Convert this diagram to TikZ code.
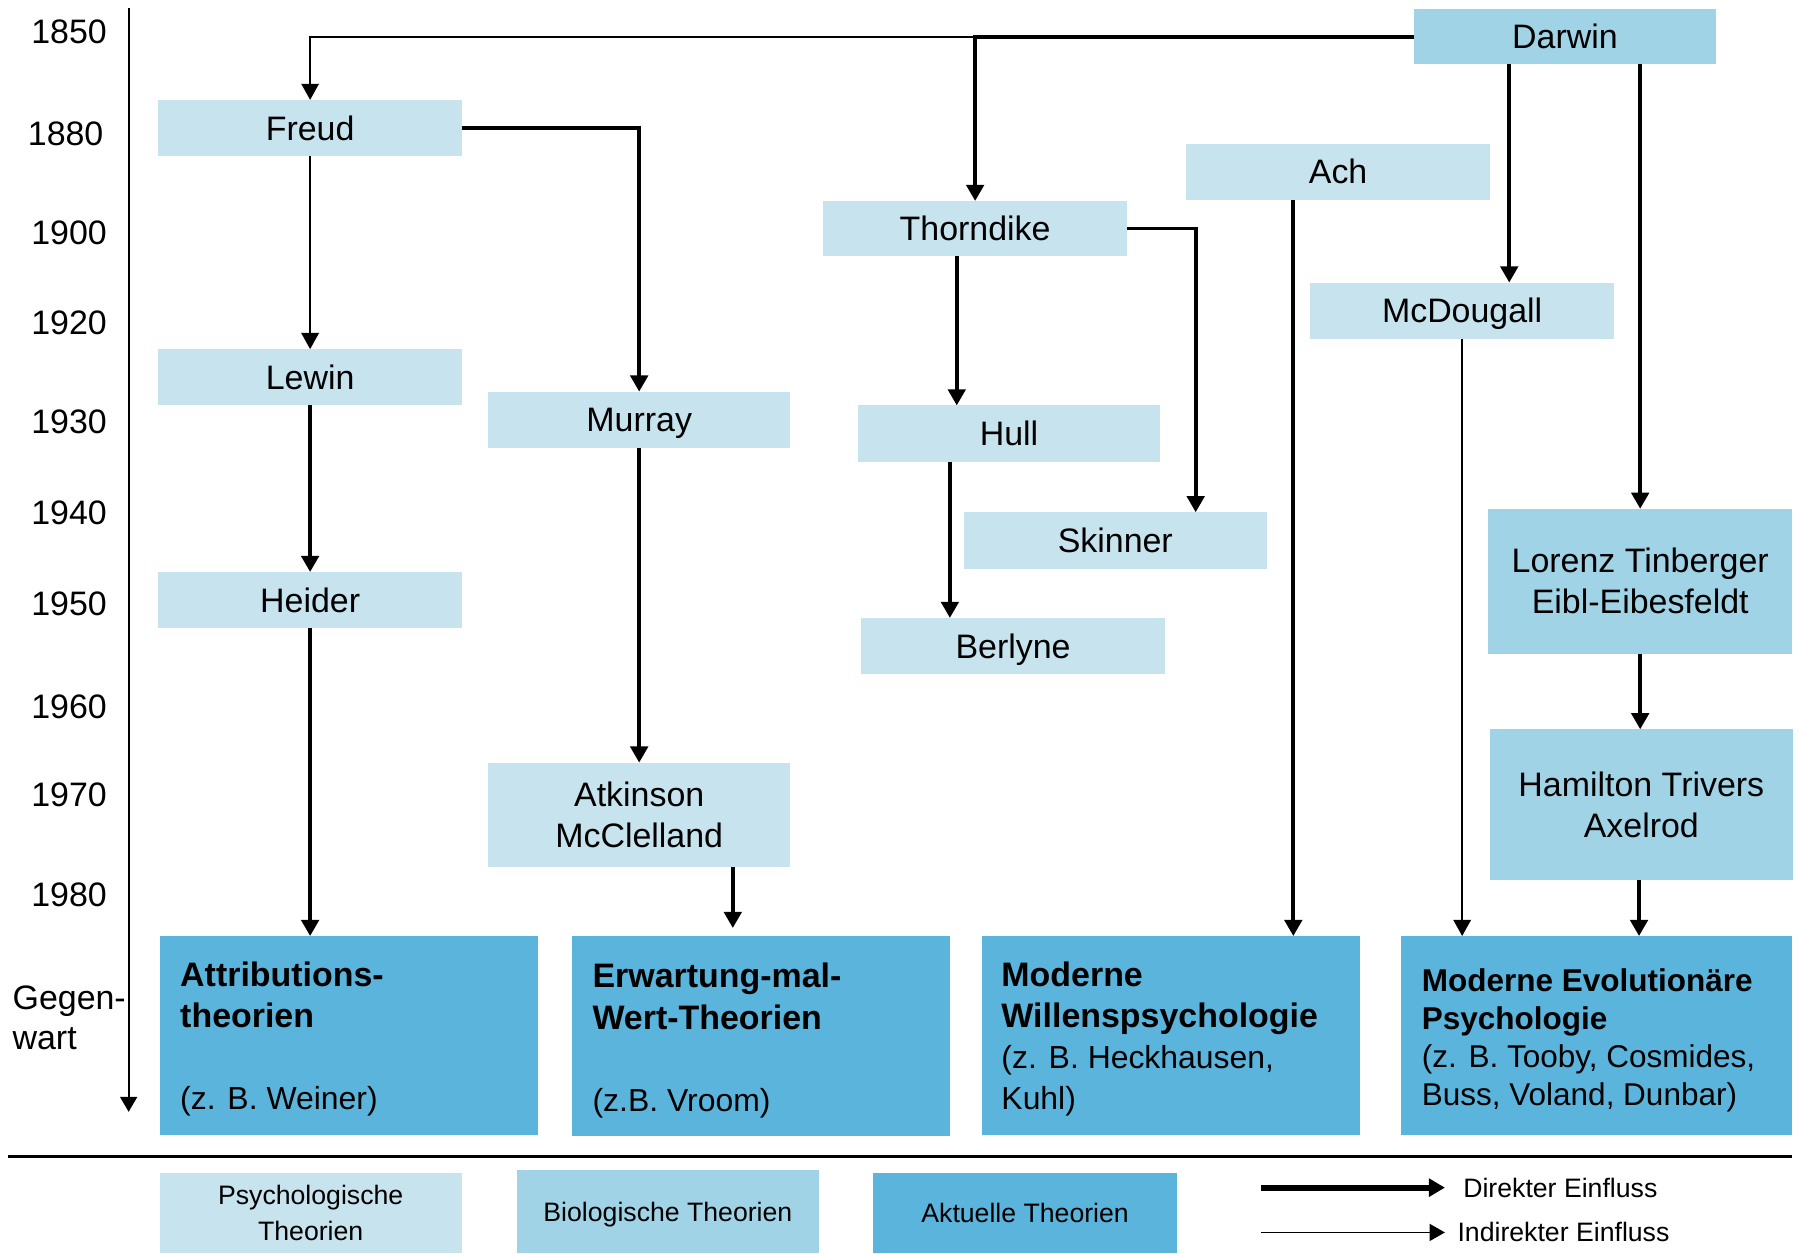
\documentclass[tikz,border=0pt]{standalone}
\usepackage{fontspec}
\setmainfont{Liberation Sans}
\usetikzlibrary{arrows.meta,calc}
\definecolor{psych}{RGB}{199,227,238}
\definecolor{bio}{RGB}{161,211,230}
\definecolor{curr}{RGB}{91,180,220}
\begin{document}
\begin{tikzpicture}[x=0.01cm,y=-0.01cm,
  base/.style={inner sep=0pt, outer sep=0pt, draw=none, font=\fontsize{8.4}{10.2}\selectfont},
  single/.style={text height=6pt, text depth=0pt},
  pbox/.style={base, single, fill=psych, minimum width=2.64cm, minimum height=0.49cm},
  pbox2/.style={base, fill=psych, minimum width=2.63cm, align=center},
  bbox/.style={base, fill=bio, minimum width=2.64cm, align=center},
  cbox/.style={base, fill=curr, minimum height=1.73cm},
  ctext/.style={base, anchor=west, align=left},
  year/.style={base, single, anchor=east},
  tip/.style={-{Triangle[length=4pt,width=4.3pt]}},
  direct/.style={tip, line width=0.95pt},
  indirect/.style={tip, line width=0.5pt},
  legfont/.style={font=\fontsize{6.6}{7.7}\selectfont},
  legbox/.style={base, legfont, align=center, minimum width=2.63cm},
  legsingle/.style={text height=4.7pt, text depth=0pt},
]
\useasboundingbox (0,0) rectangle (1568,1091);

% time axis
\coordinate (axtop) at (112,7);
\coordinate (axbot) at (112,968);
\draw[line width=0.45pt, -{Triangle[length=3.7pt,width=4.2pt]}] (axtop) -- (axbot);
\node[year] (y1850) at (93,27) {1850};
\node[year] (y1880) at (90,116) {1880};
\node[year] (y1900) at (93,202) {1900};
\node[year] (y1920) at (93,281) {1920};
\node[year] (y1930) at (93,367) {1930};
\node[year] (y1940) at (93,446) {1940};
\node[year] (y1950) at (93,525) {1950};
\node[year] (y1960) at (93,615) {1960};
\node[year] (y1970) at (93,692) {1970};
\node[year] (y1980) at (93,779) {1980};
\node[base, anchor=west, align=left, font=\fontsize{8.4}{10}\selectfont] (gegen) at (11,886) {Gegen-\\wart};

% boxes
\node[bbox, single, minimum height=0.48cm, minimum width=2.63cm] (Darwin) at (1362.5,32) {Darwin};
\node[pbox] (Freud) at (270,111.5) {Freud};
\node[pbox] (Ach) at (1165,149.5) {Ach};
\node[pbox, minimum height=0.48cm] (Thorndike) at (849,199) {Thorndike};
\node[pbox] (McDougall) at (1273,270.5) {McDougall};
\node[pbox] (Lewin) at (270,328.5) {Lewin};
\node[pbox, minimum width=2.63cm] (Murray) at (556.5,365.5) {Murray};
\node[pbox, minimum width=2.63cm] (Hull) at (878.5,377.5) {Hull};
\node[pbox] (Skinner) at (971,470.5) {Skinner};
\node[bbox, minimum height=1.26cm] (Lorenz) at (1428,506) {Lorenz Tinberger\\Eibl-Eibesfeldt};
\node[pbox] (Heider) at (270,522.5) {Heider};
\node[pbox] (Berlyne) at (882,562.5) {Berlyne};
\node[bbox, minimum height=1.31cm] (Hamilton) at (1429,700.5) {Hamilton Trivers\\Axelrod};
\node[pbox2, minimum height=0.91cm] (Atkinson) at (556.5,709.5) {Atkinson\\McClelland};

% current theories
\node[cbox, minimum width=3.29cm] (Attr) at (303.5,901.5) {};
\node[cbox, minimum width=3.29cm, minimum height=1.74cm] (Erw) at (662.5,902) {};
\node[cbox, minimum width=3.29cm] (Will) at (1019.5,901.5) {};
\node[cbox, minimum width=3.40cm] (Evol) at (1390,901.5) {};
\node[ctext] (AttrT) at ($(Attr.west)+(18,3)$) {\textbf{Attributions-}\\\textbf{theorien}\\[10.2pt]{\fontsize{7.9}{10.2}\selectfont(z. B. Weiner)}};
\node[ctext] (ErwT) at ($(Erw.west)+(18,4)$) {\textbf{Erwartung-mal-}\\\textbf{Wert-Theorien}\\[10.2pt]{\fontsize{7.9}{10.2}\selectfont(z.B. Vroom)}};
\node[ctext] (WillT) at ($(Will.west)+(17,3)$) {\textbf{Moderne}\\\textbf{Willenspsychologie}\\{\fontsize{7.9}{10.2}\selectfont(z. B. Heckhausen,}\\{\fontsize{7.9}{10.2}\selectfont Kuhl)}};
\node[ctext, font=\fontsize{7.8}{9.4}\selectfont] (EvolT) at ($(Evol.west)+(18,4)$) {\textbf{Moderne Evolutionäre}\\\textbf{Psychologie}\\(z. B. Tooby, Cosmides,\\Buss, Voland, Dunbar)};

% connectors
\draw[direct] (Darwin.west) -- (Darwin.west -| Thorndike.north) coordinate (dsplit) -- (Thorndike.north);
\draw[indirect] (dsplit) -| (Freud.north);
\draw[direct] ($(Darwin.south)+(-48.5,0)$) -- ($(McDougall.north)+(41,0)$);
\draw[direct] ($(Darwin.south)+(65.5,0)$) -- (Lorenz.north);
\draw[direct] (Freud.east) -| (Murray.north);
\draw[indirect] (Freud.south) -- (Lewin.north);
\draw[direct] (Lewin.south) -- (Heider.north);
\draw[direct] (Heider.south) -- (Heider.south |- Attr.north);
\draw[direct] (Murray.south) -- (Atkinson.north);
\draw[direct] ($(Atkinson.south)+(81.5,0)$) -- ($(Erw.north)+(-24.5,-7)$);
\draw[direct] ($(Thorndike.south)+(-16,0)$) -- ($(Hull.north)+(-45.5,0)$);
\draw[direct] (Thorndike.east) -| ($(Skinner.north)+(70,0)$);
\draw[direct] ($(Hull.south)+(-51.5,0)$) -- ($(Berlyne.north)+(-55,0)$);
\draw[direct] ($(Ach.south)+(-39,0)$) -- ($(Will.north)+(106.5,0)$);
\draw[indirect] (McDougall.south) -- ($(Evol.north)+(-117,0)$);
\draw[direct] (Lorenz.south) -- (Lorenz.south |- Hamilton.north);
\draw[direct] ($(Hamilton.south)+(-2,0)$) -- ($(Evol.north)+(37,0)$);

% separator
\coordinate (sepL) at (7,1007);
\coordinate (sepR) at (1560,1007);
\draw[line width=0.6pt] (sepL) -- (sepR);

% legend
\node[legbox, fill=psych, minimum height=0.70cm] (legP) at (270.5,1056) {Psychologische\\[1pt]Theorien};
\node[legbox, legsingle, fill=bio, minimum height=0.72cm] (legB) at (581.5,1055) {Biologische Theorien};
\node[legbox, legsingle, fill=curr, minimum height=0.70cm, minimum width=2.65cm] (legC) at (892.5,1056) {Aktuelle Theorien};
\coordinate (ldA) at (1098,1034);
\coordinate (ldB) at (1258,1034);
\coordinate (liA) at (1098,1073);
\coordinate (liB) at (1258,1073);
\draw[line width=1.5pt, -{Triangle[length=4pt,width=4.4pt]}] (ldA) -- (ldB);
\draw[line width=0.45pt, -{Triangle[length=3.8pt,width=4.2pt]}] (liA) -- (liB);
\node[base, legfont, legsingle, anchor=west] (legD) at (1274,1034) {Direkter Einfluss};
\node[base, legfont, legsingle, anchor=west] (legI) at (1269,1073) {Indirekter Einfluss};
\end{tikzpicture}
\end{document}
